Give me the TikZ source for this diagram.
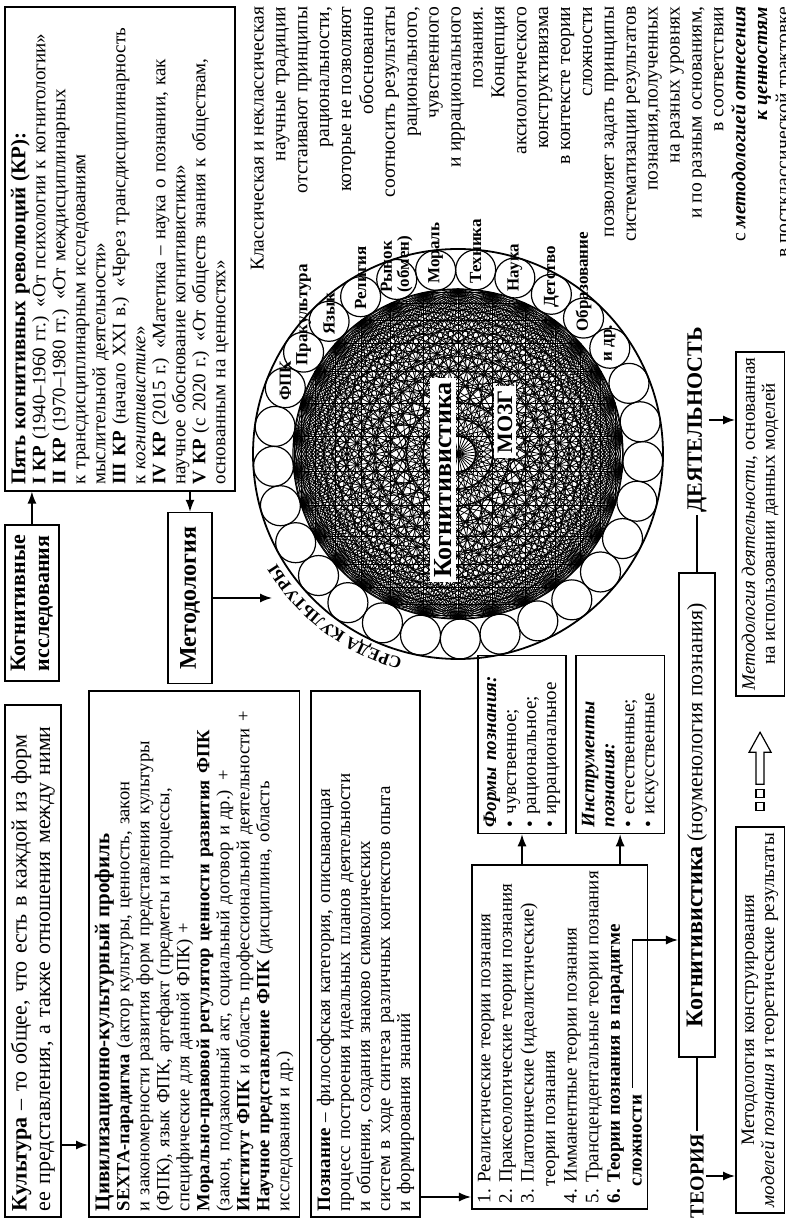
\documentclass[tikz,border=0pt]{standalone}
\usepackage{fontspec}
\setmainfont{Liberation Serif}
\usetikzlibrary{arrows.meta, calc, decorations.text}

\newcommand{\bodyfs}{\fontsize{9.5}{10}\selectfont}

\begin{document}
\begin{tikzpicture}[x=0.5pt, y=-0.5pt, rotate=90, transform shape,
    >={Latex[length=6pt,width=4.5pt]}, line width=0.7pt,
    box/.style={draw, line width=0.8pt, inner sep=3pt, align=left, font=\bodyfs},
    head/.style={draw, line width=0.8pt, inner xsep=5pt, inner ysep=3pt, align=left,
      font=\fontsize{11}{12}\selectfont\bfseries},
    chord/.style={line width=0.4pt},
    ring/.style={line width=0.6pt},
    lbl/.style={font=\fontsize{8.5}{8.5}\selectfont\bfseries, inner sep=0pt, anchor=west, align=left},
    inbox/.style={fill=white, inner sep=2pt},
    caps/.style={font=\fontsize{10}{10}\selectfont\bfseries, inner sep=1pt}]
    \useasboundingbox (0,0) rectangle (1222,786);

    % Top row
    \node[box, anchor=north west, text width=250pt, font=\fontsize{11}{11.8}\selectfont] (kult) at (4,4)
      {\textbf{Культура} – то общее, что есть в каждой из форм\\ее представления, а также отношения между ними};
    \node[head, anchor=north west] (kogn) at (540,4) {Когнитивные\\исследования};
    \node[box, anchor=north east, text width=236pt] (kr) at (1216,4)
      {{\fontsize{10.5}{10}\selectfont\bfseries Пять когнитивных революций (КР):}\\
       \textbf{I КР} (1940–1960 гг.) «От психологии к когнитологии»\\
       \textbf{II КР} (1970–1980 гг.) «От междисциплинарных\\
       к трансдисциплинарным исследованиям\\
       мыслительной деятельности»\\
       \textbf{III КР} (начало XXI в.) «Через трансдисциплинарность\\
       к \textit{когнитивистике}»\\
       \textbf{IV КР} (2015 г.) «Матетика – наука о познании, как\\
       научное обоснование когнитивистики»\\
       \textbf{V КР} (с 2020 г.) «От обществ знания к обществам,\\
       основанным на ценностях»};
    \node[head, font=\fontsize{12}{12}\selectfont\bfseries, inner xsep=7pt, inner ysep=6pt] (metod) at (624,190) {Методология};

    % Left column
    \node[box, anchor=north west, text width=257pt, font=\fontsize{9.3}{10}\selectfont] (civ) at (4,88)
      {{\fontsize{10.5}{10}\selectfont\bfseries Цивилизационно-культурный профиль}\\
       \textbf{SEXTA-парадигма} (актор культуры, ценность, закон\\
       и закономерности развития форм представления культуры\\
       (ФПК), язык ФПК, артефакт (предметы и процессы,\\
       специфические для данной ФПК) +\\
       \textbf{Морально-правовой регулятор ценности развития ФПК}\\
       (закон, подзаконный акт, социальный договор и др.) +\\
       \textbf{Институт ФПК} и область профессиональной деятельности +\\
       \textbf{Научное представление ФПК} (дисциплина, область\\
       исследования и др.)};
    \node[box, anchor=north west, text width=257pt] (poz) at ($(civ.south west)+(0,10)$)
      {\textbf{Познание} – философская категория, описывающая\\
       процесс построения идеальных планов деятельности\\
       и общения, создания знаково символических\\
       систем в ходе синтеза различных контекстов опыта\\
       и формирования знаний};
    \node[box, anchor=north west, font=\fontsize{9.5}{10.8}\selectfont] (list) at ($(poz.south west)+(8,50)$)
      {1. Реалистические теории познания\\
       2. Праксеологические теории познания\\
       3. Платонические (идеалистические)\\
       \hspace*{0.9em}теории познания\\
       4. Имманентные теории познания\\
       5. Трансцендентальные теории познания\\
       \textbf{6. Теории познания в парадигме}\\
       \hspace*{0.9em}\textbf{сложности}};
    \node[box, anchor=north west, text width=83pt] (forms) at ($(list.north east)+(30,6)$)
      {\textbf{\textit{Формы познания:}}\\• чувственное;\\• рациональное;\\• иррациональное};
    \node[box, anchor=north west, text width=83pt] (instr) at ($(forms.south west)+(0,8)$)
      {\textbf{\textit{Инструменты}}\\\textbf{\textit{познания:}}\\• естественные;\\• искусственные};

    % Bottom rows
    \node[caps] (teoria) at (46,697) {ТЕОРИЯ};
    \node[box, minimum width=242pt, inner xsep=6pt, inner ysep=4pt] (kogn2) at (407,697)
      {{\fontsize{12}{12}\selectfont\bfseries Когнитивистика} {\fontsize{11}{11}\selectfont(ноуменология познания)}};
    \node[caps, font=\fontsize{11}{11}\selectfont\bfseries] (deyat) at (802,697) {ДЕЯТЕЛЬНОСТЬ};
    \node[box, anchor=north west, align=center] (metk) at (8,735)
      {Методология конструирования\\\textit{моделей познания} и теоретические результаты};
    \node[box, anchor=north west, align=center] (metd) at (525,735)
      {\textit{Методология деятельности}, основанная\\на использовании данных моделей};

    % Right text
    \node[anchor=north east, align=right, inner sep=0pt, font=\fontsize{9.8}{10.95}\selectfont] (rcol) at (1216,250)
      {Классическая и неклассическая\\
       научные традиции\\
       отстаивают принципы\\
       рациональности,\\
       которые не позволяют\\
       обоснованно\\
       соотносить результаты\\
       рационального,\\
       чувственного\\
       и иррационального\\
       познания.\\
       Концепция\\
       аксиологического\\
       конструктивизма\\
       в контексте теории\\
       сложности\\
       позволяет задать принципы\\
       систематизации результатов\\
       познания,полученных\\
       на разных уровнях\\
       и по разным основаниям,\\
       в соответствии\\
       с \textbf{\textit{методологией отнесения}}\\
       \textbf{\textit{к ценностям}}\\
       в постклассической трактовке};

    % Circle of culture
    \coordinate (C) at (768,458);
    \draw[line width=0.9pt] (C) circle (205);
    \draw[ring] (C) circle (165);
    \foreach \k in {0,...,28}
      \draw[ring] ($(C)+(-69+\k*12.4138:185)$) circle (20);
    \foreach \i in {0,...,29}
      \coordinate (m\i) at ($(C)+(\i*12:165)$);
    \foreach \i in {0,...,28}{
      \pgfmathtruncatemacro{\js}{\i+1}
      \foreach \j in {\js,...,29}
        \draw[chord] (m\i) -- (m\j);
    }
    \foreach \k/\t in {0/ФПК, 1/Пракультура, 2/Язык, 3/Религия, 4/{Рынок\\(обмен)},
        5/Мораль, 6/Техника, 7/Наука, 8/Детство, 9/Образование, 10/и др.}
      \node[lbl] (c\k) at ($(C)+(-69+\k*12.4138:185)+(-14,0)$) {\t};
    \node[inbox, font=\fontsize{13}{13}\selectfont\bfseries] (kgv) at (742,443) {Когнитивистика};
    \node[inbox, font=\fontsize{11}{11}\selectfont\bfseries] (mozg) at (800,505) {МОЗГ};
    \path[decorate, decoration={text along path, text align=center,
        text={|\fontsize{8.5}{8.5}\selectfont\bfseries|СРЕДА КУЛЬТУРЫ}}]
      ($(C)+(-175:212)$) arc[start angle=-175, end angle=-111, radius=212];

    % Edges
    \coordinate (sreda) at (624,272);
    \coordinate (pz) at ($(poz.south west)+(21,0)$);
    \coordinate (slz) at ($(list.south west)+(122,-16)$);
    \coordinate (slzturn) at ($(slz)+(148,0)$);
    \draw[->] ($(kult.south west)+(73,0)$) -- ($(civ.north west)+(73,0)$);
    \draw[->] (kogn.east) -- (kogn.east -| kr.west);
    \draw[->] (kr.west |- metod.east) -- (metod.east);
    \draw[->] (metod.south) -- (metod.south |- sreda);
    \draw[->] (pz) -- (pz |- list.north);
    \draw[->] (list.east |- forms.west) -- (forms.west);
    \draw[->] (list.east |- instr.west) -- (instr.west);
    \draw[->] (slz) -- (slzturn) -- (slzturn |- kogn2.north);
    \draw (teoria.east) -- (kogn2.west);
    \draw (kogn2.east) -- (deyat.west);
    \draw[->] (teoria.south) -- (teoria.south |- metk.north);
    \draw[->] (deyat.south) -- (deyat.south |- metd.north);

    % Hollow arrow between the methodologies
    \coordinate (ha) at ($(metk.east)+(16,0)$);
    \draw[line width=0.6pt] ($(ha)+(0,-4)$) rectangle +(8,8);
    \draw[line width=0.6pt] ($(ha)+(13,-4)$) rectangle +(8,8);
    \draw[line width=0.6pt] ($(ha)+(26,-4)$) -- ++(32,0) -- ++(0,-7) -- ++(20,11)
      -- ++(-20,11) -- ++(0,-7) -- ++(-32,0) -- cycle;
\end{tikzpicture}
\end{document}
